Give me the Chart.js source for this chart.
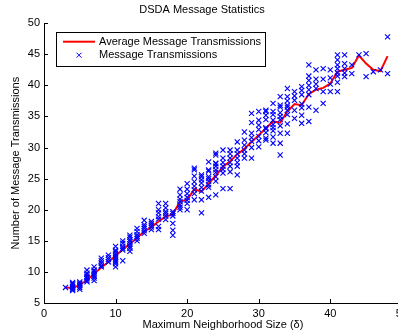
<!DOCTYPE html>
<html><head><meta charset="utf-8">
<script src="https://cdn.jsdelivr.net/npm/chart.js@4/dist/chart.umd.min.js"></script>
<style>
html,body{margin:0;padding:0;overflow:hidden;background:#fff;}
#wrap{position:relative;width:412px;height:336px;}
</style></head><body>
<div id="wrap"><canvas id="c"></canvas></div>
<script>
const chartTitle = 'DSDA Message Statistics';
const xAxisTitle = 'Maximum Neighborhood Size (\u03b4)';
const yAxisTitle = 'Number of Message Transmissions';
const legendLabels = ['Average Message Transmissions', 'Message Transmissions'];

// average line
const avgX = [3,4,5,6,7,8,9,10,11,12,13,14,15,16,17,18,19,20,21,22,23,24,25,26,27,28,29,30,31,32,33,34,35,36,37,38,39,40,41,42,43,44,45,46,47,48];
const avgY = [7.5,7.4,7.9,8.7,9.7,10.7,11.6,12.6,13.6,14.5,15.5,16.5,17.2,18.1,18.9,19.3,21.3,21.6,23.3,22.9,24.2,25.5,26.9,27.8,28.9,29.8,30.9,32.0,33.1,34.2,34.0,35.8,37.0,36.8,38.6,39.3,39.6,40.3,42.2,42.5,42.8,44.8,43.5,42.5,42.3,44.7];

// individual measurements, one list per neighborhood size
const scatterX = avgX;
const scatterY = [
  [7.5],
  [7.0,7.2,7.4,7.5,7.6,7.9,8.1,8.3],
  [7.2,7.5,7.8,8.0,8.2,8.4],
  [8.4,8.6,8.9,9.1,9.3,9.6,9.8,10.3],
  [8.6,9.0,9.3,9.5,9.8,10.1,10.3,10.8],
  [10.8,11.0,11.4,11.8,12.2],
  [11.6,12.0,12.3,12.7],
  [10.8,11.3,11.6,11.8,12.1,12.4,12.7,13.0,13.3,13.5,14.1],
  [11.8,13.5,13.8,14.1,14.6,15.0],
  [13.3,13.8,14.1,14.5,14.9,15.2,15.6,15.9],
  [15.0,15.4,15.7,16.0,16.5,17.0],
  [16.2,16.6,17.0,17.3,17.6,18.3],
  [16.8,17.2,17.5,17.8,18.1],
  [16.8,17.3,18.5,18.9,19.5,20.0,21.0],
  [18.4,19.0,19.4,19.7,20.3,21.0],
  [15.9,16.7,17.8,19.0,19.4,19.7],
  [20.0,20.4,20.8,21.3,21.7,22.4,23.3],
  [20.0,21.0,21.5,22.0,22.6,23.3,24.2],
  [21.6,22.6,23.2,23.8,24.5,25.4,26.4,26.7],
  [19.5,21.6,23.0,23.6,24.3,24.8,25.3,25.6],
  [22.0,23.6,24.0,24.6,25.0,25.3,26.2,26.4,27.7],
  [22.4,24.6,25.3,26.0,26.4,27.0,27.4,27.5,28.8,29.1],
  [23.4,25.9,26.5,27.0,27.6,28.3,29.6],
  [23.4,26.1,27.0,27.6,28.3,29.0,29.6],
  [25.6,27.0,27.6,28.3,29.0,29.6,30.9],
  [28.3,29.0,29.6,30.4,31.2,32.5],
  [28.3,30.0,31.0,31.6,32.3,34.0,35.5],
  [30.1,31.1,31.8,32.9,33.6,34.4,35.8],
  [31.2,31.5,32.4,33.0,33.2,34.5,35.2,35.8,36.0],
  [30.7,31.7,32.7,33.2,33.7,34.4,35.3,35.8,37.1],
  [28.8,30.7,32.3,33.5,34.5,35.0,35.6,36.5,36.8,38.2],
  [32.3,33.8,35.3,36.0,36.5,36.8,37.5,38.2,39.5],
  [34.7,36.0,37.6,38.3,39.0],
  [33.9,35.2,36.4,37.0,38.5,39.2,39.8],
  [34.2,36.5,38.5,39.3,40.0,40.8,41.5,43.3],
  [36.0,39.5,40.2,41.0,42.5],
  [37.1,39.0,41.0,42.7],
  [39.0,40.2,41.2,42.5],
  [39.0,40.5,41.5,42.0,42.7,43.3,44.1,44.9],
  [41.4,42.0,42.7,43.5,44.9],
  [41.9,43.3],
  [44.9],
  [41.4,45.1],
  [42.2],
  [42.5],
  [41.9,47.8]
];

const xTicks = [0,10,20,30,40,50];
const yTicks = [5,10,15,20,25,30,35,40,45,50];

const FONT = 'Liberation Sans, Arial, Helvetica, sans-serif';

const avgPoints = avgX.map((x, i) => ({x: x, y: avgY[i]}));
const scatterPoints = [];
scatterX.forEach((x, i) => scatterY[i].forEach(y => scatterPoints.push({x: x, y: y})));

const inwardTicks = {
  id: 'inwardTicks',
  afterDatasetsDraw(chart) {
    const {ctx, chartArea: a, scales: {x, y}} = chart;
    ctx.save();
    ctx.strokeStyle = '#000';
    ctx.lineWidth = 1;
    ctx.beginPath();
    xTicks.forEach(v => {
      const px = Math.round(x.getPixelForValue(v)) + 0.5;
      ctx.moveTo(px, a.bottom); ctx.lineTo(px, a.bottom - 4);
    });
    yTicks.forEach(v => {
      const py = Math.round(y.getPixelForValue(v)) + 0.5;
      ctx.moveTo(a.left, py); ctx.lineTo(a.left + 4, py);
    });
    ctx.stroke();
    ctx.restore();
  }
};

const boxLegend = {
  id: 'boxLegend',
  afterDraw(chart) {
    const {ctx, chartArea: a} = chart;
    ctx.save();
    ctx.font = '11px ' + FONT;
    const left = a.left + 12, top = a.top + 9;
    const textX = left + 43;
    const w = Math.max(...legendLabels.map(t => ctx.measureText(t).width));
    const right = textX + w + 4;
    const bottom = top + 34;
    ctx.fillStyle = '#fff';
    ctx.fillRect(left, top, right - left, bottom - top);
    ctx.strokeStyle = '#000';
    ctx.lineWidth = 1;
    ctx.strokeRect(Math.round(left) + 0.5, Math.round(top) + 0.5, Math.round(right - left), Math.round(bottom - top));
    const y1 = top + 9.5, y2 = top + 23;
    ctx.strokeStyle = '#ff0000';
    ctx.lineWidth = 2;
    ctx.beginPath(); ctx.moveTo(left + 7, y1); ctx.lineTo(left + 39, y1); ctx.stroke();
    ctx.strokeStyle = '#0000ff';
    ctx.lineWidth = 1;
    const cx = left + 23, r = 2.5;
    ctx.beginPath();
    ctx.moveTo(cx - r, y2 - r); ctx.lineTo(cx + r, y2 + r);
    ctx.moveTo(cx - r, y2 + r); ctx.lineTo(cx + r, y2 - r);
    ctx.stroke();
    ctx.fillStyle = '#000';
    ctx.textBaseline = 'middle';
    ctx.textAlign = 'left';
    ctx.fillText(legendLabels[0], textX, y1);
    ctx.fillText(legendLabels[1], textX, y2);
    ctx.restore();
  }
};

new Chart(document.getElementById('c'), {
  type: 'scatter',
  data: {
    datasets: [
      {
        label: legendLabels[1],
        data: scatterPoints,
        showLine: false,
        pointStyle: 'crossRot',
        pointRadius: 3.6,
        pointBorderWidth: 1.1,
        borderColor: '#0000ff',
        backgroundColor: '#0000ff',
        order: 0
      },
      {
        label: legendLabels[0],
        data: avgPoints,
        showLine: true,
        borderColor: '#ff0000',
        borderWidth: 2,
        pointRadius: 0,
        tension: 0,
        fill: false,
        order: 1
      }
    ]
  },
  plugins: [inwardTicks, boxLegend],
  options: {
    responsive: true,
    maintainAspectRatio: false,
    animation: false,
    devicePixelRatio: 1,
    layout: {padding: {left: 0, right: 8, top: 0, bottom: 0}},
    plugins: {
      legend: {display: false},
      tooltip: {enabled: false},
      title: {
        display: true,
        text: chartTitle,
        color: '#000',
        font: {family: FONT, size: 11, weight: 'normal'},
        padding: {top: 3, bottom: 7}
      }
    },
    scales: {
      x: {
        type: 'linear',
        min: 0, max: 50,
        afterBuildTicks(s) { s.ticks = xTicks.map(v => ({value: v})); },
        afterFit(s) { s.height = 33; },
        grid: {display: true, drawOnChartArea: false, drawTicks: false, color: '#000'},
        border: {display: true, color: '#000', width: 1},
        ticks: {color: '#000', font: {family: FONT, size: 11}, padding: 4, maxRotation: 0},
        title: {display: true, text: xAxisTitle, color: '#000', font: {family: FONT, size: 11}, padding: {top: 0, bottom: 4}}
      },
      y: {
        type: 'linear',
        min: 5, max: 50,
        afterBuildTicks(s) { s.ticks = yTicks.map(v => ({value: v})); },
        afterFit(s) { s.width = 44; },
        grid: {display: true, drawOnChartArea: false, drawTicks: false, color: '#000'},
        border: {display: true, color: '#000', width: 1},
        ticks: {color: '#000', font: {family: FONT, size: 11}, padding: 4},
        title: {display: true, text: yAxisTitle, color: '#000', font: {family: FONT, size: 11}, padding: {top: 9, bottom: 0}}
      }
    }
  }
});
</script>
</body></html>
